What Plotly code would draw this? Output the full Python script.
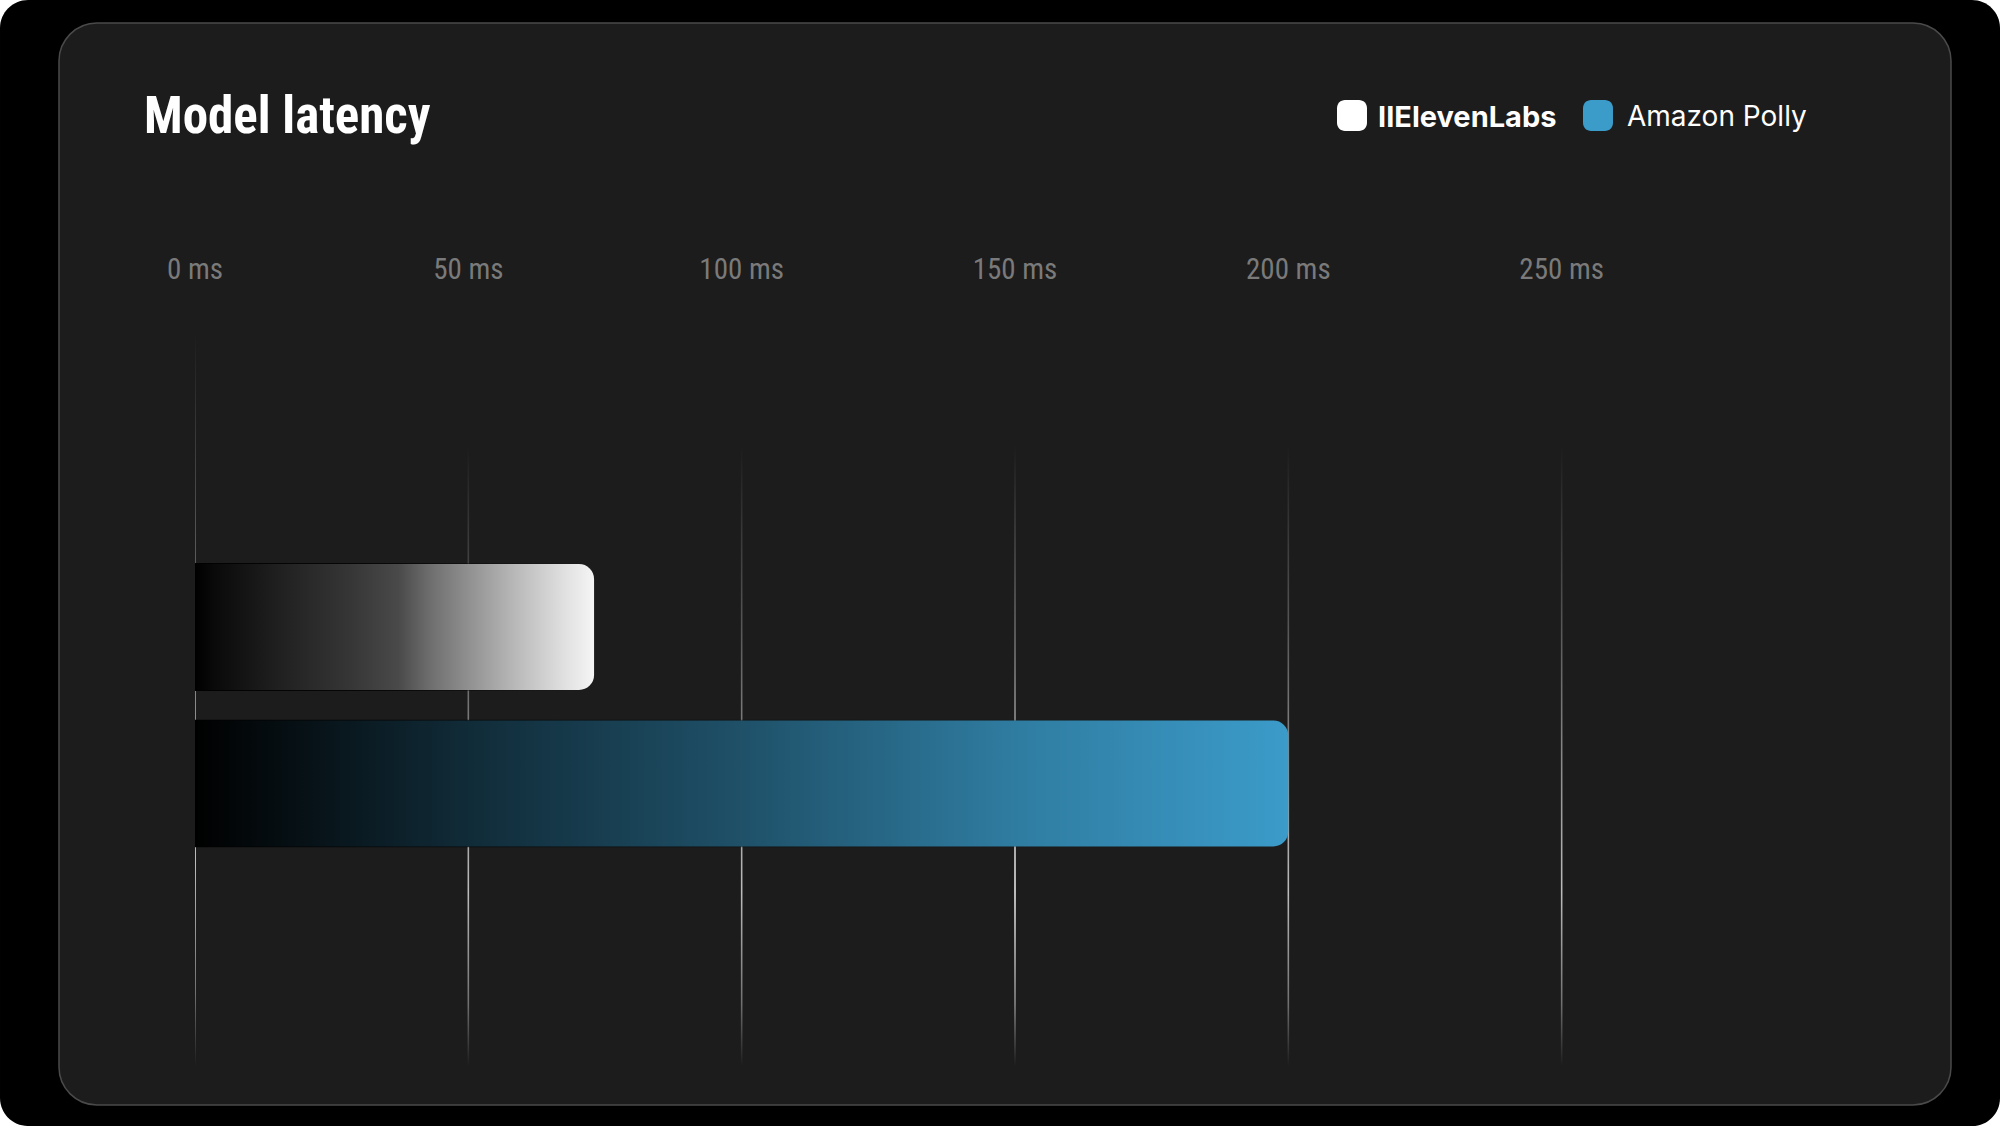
import base64
import plotly.graph_objects as go

# data
models = ["IIElevenLabs", "Amazon Polly"]
latency_ms = [73, 200]
bar_colors = ["#f5f5f5", "#3b9bc9"]
tick_ms = [0, 50, 100, 150, 200, 250]
tick_text = ["0 ms", "50 ms", "100 ms", "150 ms", "200 ms", "250 ms"]

# canvas / plot area in pixels
W, H = 2000, 1126
L, R, T, B = 195, 165, 320, 46
plot_w = W - L - R
plot_h = H - T - B
x_range = [0, 300]
y_range = [2.895, -1.962]   # reversed, 156.5 px per category
bar_w = 0.805
px_per_ms = plot_w / (x_range[1] - x_range[0])
px_per_cat = plot_h / (y_range[0] - y_range[1])

NARROW = "Roboto Condensed, DejaVu Sans Condensed, sans-serif"
INTER = "Inter, Roboto, sans-serif"


def px(x):
    return (x - L) / plot_w


def py(y):
    return 1 - (y - T) / plot_h


def rrect(x0, y0, x1, y1, r):
    k = 0.5523 * r
    p = lambda x, y: f"{px(x):.5f},{py(y):.5f}"
    return (f"M{p(x0 + r, y0)} L{p(x1 - r, y0)} C{p(x1 - r + k, y0)} {p(x1, y0 + r - k)} {p(x1, y0 + r)} "
            f"L{p(x1, y1 - r)} C{p(x1, y1 - r + k)} {p(x1 - r + k, y1)} {p(x1 - r, y1)} "
            f"L{p(x0 + r, y1)} C{p(x0 + r - k, y1)} {p(x0, y1 - r + k)} {p(x0, y1 - r)} "
            f"L{p(x0, y0 + r)} C{p(x0, y0 + r - k)} {p(x0 + r - k, y0)} {p(x0 + r, y0)} Z")


def grad_uri(offsets, opacity, color, vertical=False):
    stops = "".join(f"<stop offset='{o}' stop-color='{color}' stop-opacity='{a:.3f}'/>"
                    for o, a in zip(offsets, opacity))
    x2, y2 = ("0", "1") if vertical else ("1", "0")
    svg = (f"<svg xmlns='http://www.w3.org/2000/svg' width='100' height='100' viewBox='0 0 100 100' "
           f"preserveAspectRatio='none'><defs><linearGradient id='g' x1='0' y1='0' x2='{x2}' y2='{y2}'>"
           f"{stops}</linearGradient></defs><rect width='100' height='100' fill='url(#g)'/></svg>")
    return "data:image/svg+xml;base64," + base64.b64encode(svg.encode()).decode()


# brightness profile along each bar (0 = black start, 1 = full colour)
shade_pos = [
    [0, 0.05, 0.22, 0.39, 0.51, 0.59, 0.68, 0.80, 0.93, 1.0],
    [0, 0.10, 0.25, 0.50, 0.75, 1.0],
]
shade_val = [
    [0, 0.04, 0.135, 0.22, 0.30, 0.45, 0.58, 0.75, 0.92, 1.0],
    [0, 0.11, 0.28, 0.52, 0.80, 1.0],
]

fig = go.Figure()
fig.add_trace(go.Bar(
    x=latency_ms, y=models, orientation="h", width=bar_w,
    marker=dict(color=bar_colors, line=dict(width=0), cornerradius=15),
    hoverinfo="x+y",
))

images = []
# fading grid lines
line_w = 2 / px_per_ms
for i, t in enumerate(tick_ms):
    top_px = 332 if i == 0 else 445
    bot_px = 1066
    y_top = y_range[1] + (top_px - T) / px_per_cat
    images.append(dict(
        source=grad_uri([0, 0.3, 0.72, 0.9, 1], [0, 0.32, 0.85, 0.45, 0], "#d8d8d8", vertical=True),
        xref="x", yref="y", x=t - line_w / 2, y=y_top, sizex=line_w,
        sizey=(bot_px - top_px) / px_per_cat, xanchor="left", yanchor="top",
        sizing="stretch", layer="below",
    ))
# dark-to-light shading on the bars (1px bleed top/bottom hides the edge)
bleed = 1 / px_per_cat
for i, v in enumerate(latency_ms):
    images.append(dict(
        source=grad_uri(shade_pos[i], [1 - s for s in shade_val[i]], "#000000"),
        xref="x", yref="y", x=0, y=i - bar_w / 2 - bleed, sizex=v, sizey=bar_w + 2 * bleed,
        xanchor="left", yanchor="top", sizing="stretch", layer="above",
    ))

shapes = [
    dict(type="path", xref="paper", yref="paper", path=rrect(0, 0, W, H, 28),
         fillcolor="#000000", line=dict(width=0), layer="below"),
    dict(type="path", xref="paper", yref="paper", path=rrect(59, 23, 1951, 1105, 38),
         fillcolor="#1c1c1c", line=dict(color="#4a4a4a", width=1.5), layer="below"),
    dict(type="path", xref="paper", yref="paper", path=rrect(1337, 100, 1367, 131, 8),
         fillcolor="#ffffff", line=dict(width=0)),
    dict(type="path", xref="paper", yref="paper", path=rrect(1583, 100, 1613, 131, 8),
         fillcolor=bar_colors[1], line=dict(width=0)),
]

annotations = [
    dict(text=models[0], xref="paper", yref="paper", x=px(1376), y=py(116),
         xanchor="left", yanchor="middle", showarrow=False,
         font=dict(family=INTER, size=29, color="#ffffff", weight="bold")),
    dict(text=models[1], xref="paper", yref="paper", x=px(1625), y=py(116),
         xanchor="left", yanchor="middle", showarrow=False,
         font=dict(family=INTER, size=28, color="#ffffff")),
]

fig.update_layout(
    width=W, height=H,
    margin=dict(l=L, r=R, t=T, b=B, autoexpand=False),
    paper_bgcolor="#ffffff", plot_bgcolor="rgba(0,0,0,0)",
    showlegend=False,
    title=dict(text="Model latency", x=144 / W, xref="container", xanchor="left",
               y=1 - 115 / H, yref="container", yanchor="middle",
               font=dict(family=NARROW, size=51, color="#ffffff", weight="bold")),
    xaxis=dict(range=x_range, side="top", tickvals=tick_ms, ticktext=tick_text,
               showgrid=False, zeroline=False, showline=False, ticks="",
               ticklabelstandoff=34, fixedrange=True,
               tickfont=dict(family=NARROW, size=29, color="#7a7a7a")),
    yaxis=dict(type="category", categoryarray=models, range=y_range,
               showgrid=False, zeroline=False, showline=False,
               showticklabels=False, ticks="", fixedrange=True),
    images=images, shapes=shapes, annotations=annotations,
)

fig.write_html("out.html", config={"displayModeBar": False},
               post_script="document.body.style.margin='0';")
